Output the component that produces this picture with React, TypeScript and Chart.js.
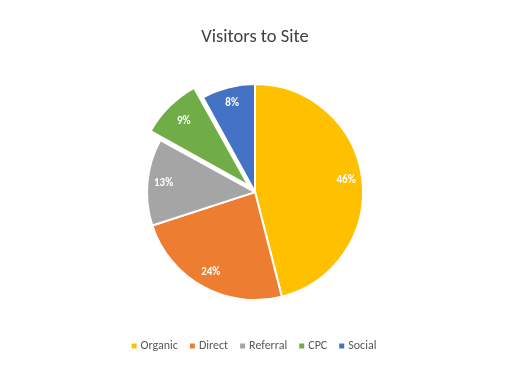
import React, { useEffect, useRef } from "react";
import { Chart, registerables } from "chart.js";

Chart.register(...registerables);

const categories = ["Organic", "Direct", "Referral", "CPC", "Social"];
const shares = [46, 24, 13, 9, 8];
const colors = ["#FFC000", "#ED7D31", "#A5A5A5", "#70AD47", "#4472C4"];
const offsets = [0, 0, 0, 36, 0];
const titleText = "Visitors to Site";

const FONT = "Calibri, Carlito, Lato, 'Open Sans', sans-serif";

const labelPlugin = {
  id: "sliceLabels",
  afterDatasetsDraw(chart: any) {
    const ctx = chart.ctx;
    const meta = chart.getDatasetMeta(0);
    const data = chart.data.datasets[0].data as number[];
    const total = data.reduce((a, b) => a + b, 0);
    ctx.save();
    ctx.fillStyle = "#FFFFFF";
    ctx.font = `bold 11px ${FONT}`;
    ctx.textAlign = "center";
    ctx.textBaseline = "middle";
    meta.data.forEach((arc: any, i: number) => {
      const p = arc.getProps(["x", "y", "startAngle", "endAngle", "outerRadius"], true);
      const mid = (p.startAngle + p.endAngle) / 2;
      const r = p.outerRadius * 0.85 + (offsets[i] || 0) / 4;
      const x = p.x + Math.cos(mid) * r;
      const y = p.y + Math.sin(mid) * r;
      ctx.fillText(Math.round((data[i] / total) * 100) + "%", x, y);
    });
    ctx.restore();
  },
};

export default function App() {
  const ref = useRef<HTMLCanvasElement>(null);
  useEffect(() => {
    document.body.style.margin = "0";
    const chart = new Chart(ref.current!, {
      type: "pie",
      data: {
        labels: categories,
        datasets: [
          {
            data: shares,
            backgroundColor: colors,
            borderColor: "#FFFFFF",
            borderWidth: 2,
            offset: offsets,
            radius: 108,
          },
        ],
      },
      options: {
        animation: false,
        responsive: false,
        maintainAspectRatio: false,
        layout: { padding: { top: 0, bottom: 20, left: 0, right: 0 } },
        plugins: {
          tooltip: { enabled: false },
          title: {
            display: true,
            text: titleText,
            color: "#404040",
            font: { family: FONT, size: 18.5, weight: "normal" },
            padding: { top: 26, bottom: 10 },
          },
          legend: {
            position: "bottom",
            labels: {
              usePointStyle: true,
              pointStyle: "rect",
              boxWidth: 1,
              boxHeight: 5,
              color: "#595959",
              font: { family: FONT, size: 12 },
              padding: 14,
              generateLabels(chart: any) {
                const items = Chart.overrides.pie.plugins.legend.labels.generateLabels(chart);
                return items.map((it: any) => ({ ...it, lineWidth: 0, strokeStyle: it.fillStyle }));
              },
            },
          },
        },
      } as any,
      plugins: [labelPlugin],
    });
    return () => chart.destroy();
  }, []);
  return (
    <div style={{ width: 510, height: 382, background: "#fff" }}>
      <canvas ref={ref} width={510} height={382} />
    </div>
  );
}
